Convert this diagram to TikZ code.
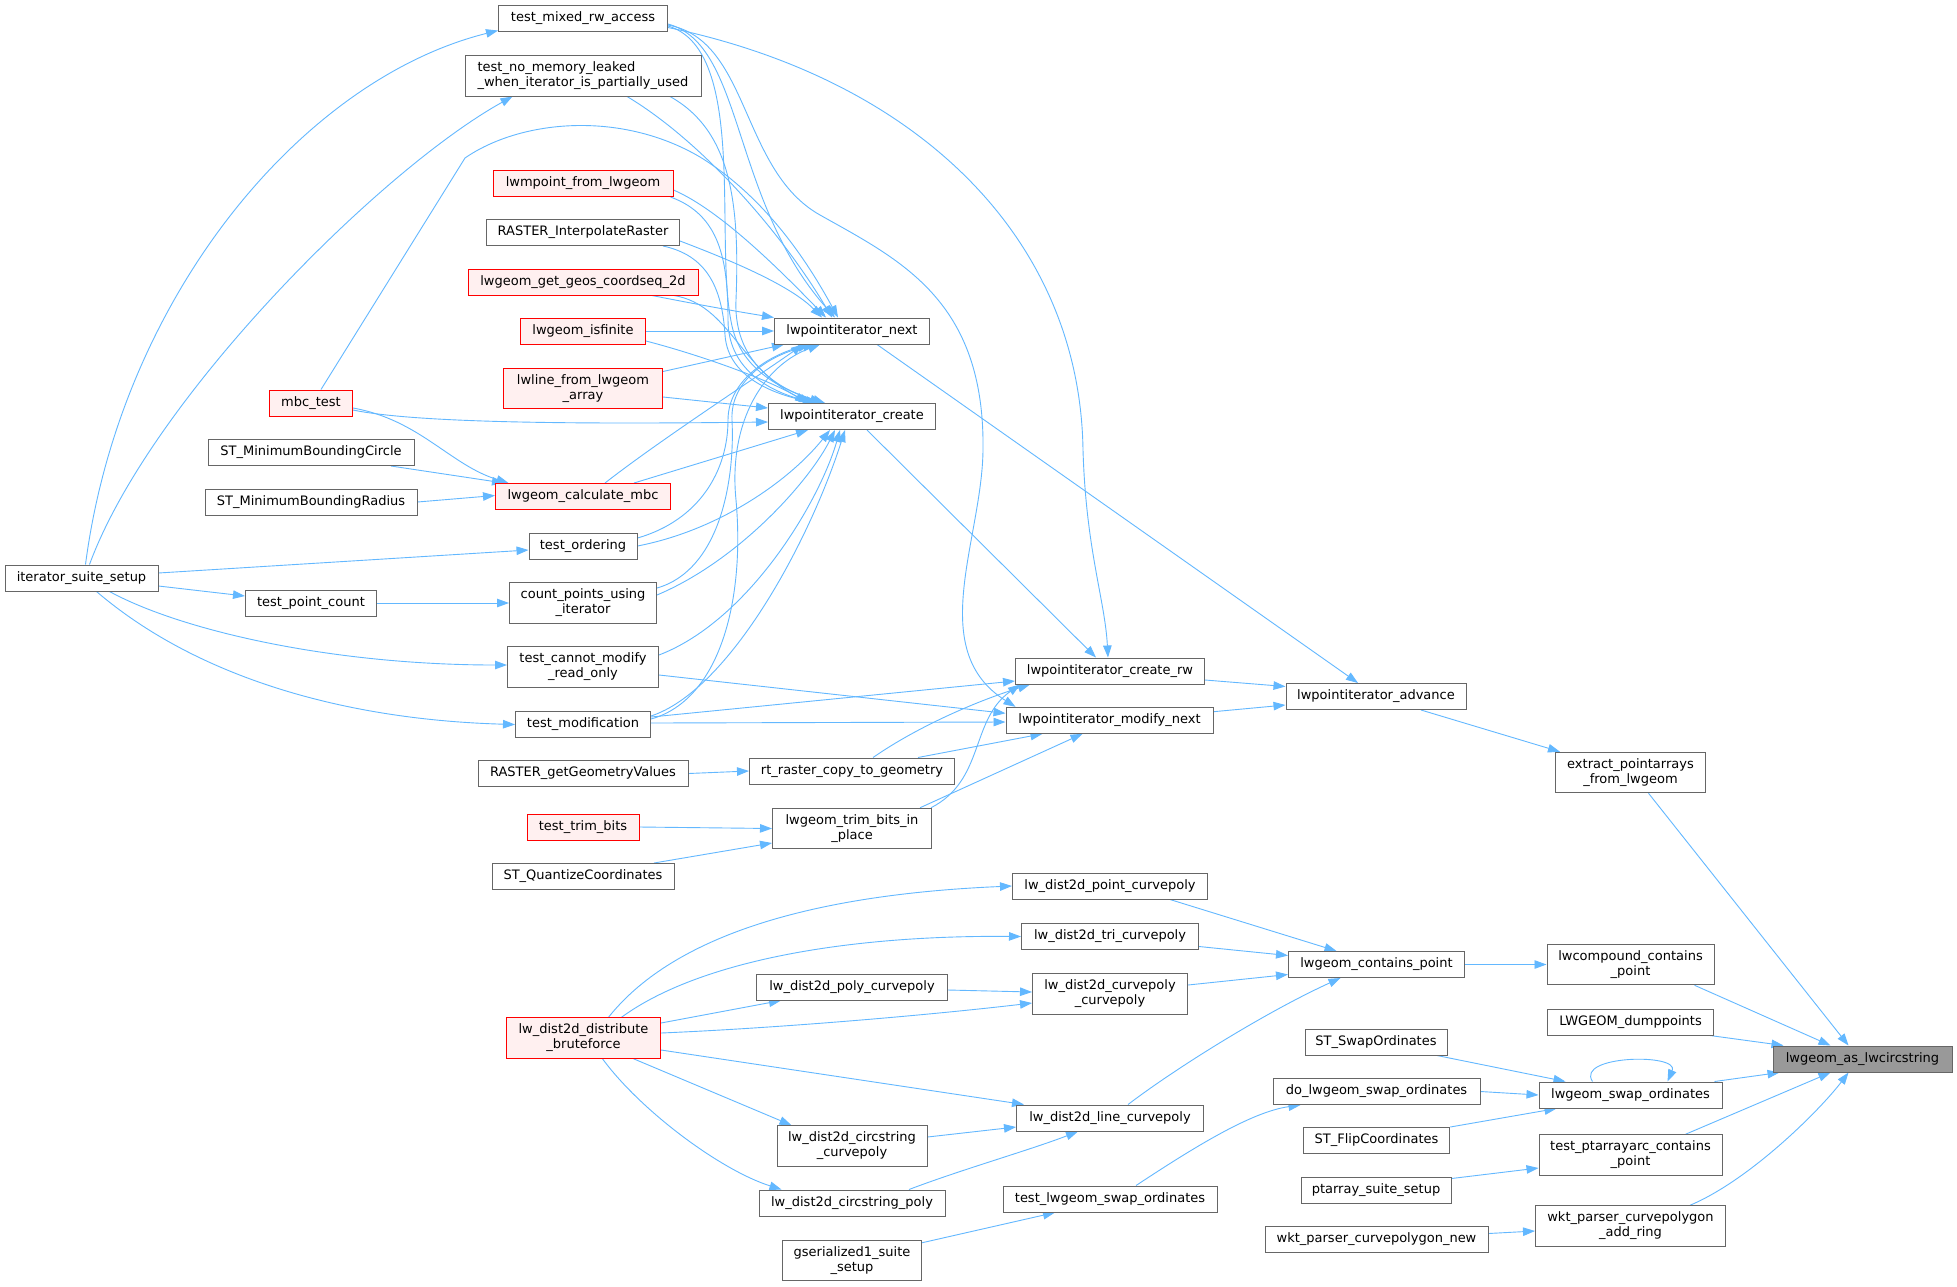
\documentclass[tikz,border=0pt]{standalone}
\usepackage{fontspec}
\newfontfamily\dv{DejaVu Sans}
\usetikzlibrary{arrows.meta}
\definecolor{edgeblue}{HTML}{63B8FF}
\definecolor{boxgray}{HTML}{666666}
\definecolor{hotfill}{HTML}{FFF0F0}
\definecolor{mainfill}{HTML}{999999}
\pgfdeclarelayer{bg}
\pgfsetlayers{bg,main}
\tikzset{
  fn/.style={draw=boxgray, fill=white, line width=1pt, inner sep=0pt, minimum height=26pt,
    font=\dv\fontsize{13pt}{15pt}\selectfont, text=black, align=center},
  two/.style={minimum height=40.5pt},
  hot/.style={draw=red, fill=hotfill},
  cur/.style={fill=mainfill, draw=boxgray},
  e/.style={draw=edgeblue, line width=0.9pt, -{Triangle[length=12pt,width=8.5pt]}},
}
\begin{document}
\begin{tikzpicture}[x=1pt,y=-1pt]
\useasboundingbox (0,0) rectangle (1957,1286);
% ---------- nodes ----------
\node[fn, minimum width=169pt] (tmr) at (583,18) {test\_mixed\_rw\_access};
\node[fn, two, minimum width=236pt, minimum height=41pt, align=left] (tnm) at (583,75.5) {test\_no\_memory\_leaked\\\_when\_iterator\_is\_partially\_used};
\node[fn, hot, minimum width=180pt] (lwm) at (583,183.5) {lwmpoint\_from\_lwgeom};
\node[fn, minimum width=193pt] (rir) at (583,232.5) {RASTER\_InterpolateRaster};
\node[fn, hot, minimum width=230pt] (geos) at (583,282) {lwgeom\_get\_geos\_coordseq\_2d};
\node[fn, hot, minimum width=125pt] (isf) at (583,331) {lwgeom\_isfinite};
\node[fn, two, hot, minimum width=159pt] (lwl) at (583,388.5) {lwline\_from\_lwgeom\\\_array};
\node[fn, hot, minimum width=83pt] (mbct) at (311,403) {mbc\_test};
\node[fn, minimum width=206pt] (smc) at (311,452.5) {ST\_MinimumBoundingCircle};
\node[fn, minimum width=212pt] (smr) at (311,502) {ST\_MinimumBoundingRadius};
\node[fn, hot, minimum width=175pt] (cmbc) at (583,496.5) {lwgeom\_calculate\_mbc};
\node[fn, minimum width=108pt] (tord) at (583,546) {test\_ordering};
\node[fn, minimum width=153pt] (iss) at (81.5,578) {iterator\_suite\_setup};
\node[fn, minimum width=131pt] (tpc) at (311,603) {test\_point\_count};
\node[fn, two, minimum width=147pt] (cpi) at (583,603) {count\_points\_using\\\_iterator};
\node[fn, two, minimum width=151pt] (tcm) at (583,667) {test\_cannot\_modify\\\_read\_only};
\node[fn, minimum width=135pt] (tmod) at (583,724.5) {test\_modification};
\node[fn, minimum width=210pt] (rgv) at (583,773.5) {RASTER\_getGeometryValues};
\node[fn, hot, minimum width=112pt] (ttb) at (583,827) {test\_trim\_bits};
\node[fn, minimum width=182pt] (sqc) at (583,876.5) {ST\_QuantizeCoordinates};
\node[fn, two, hot, minimum width=154pt] (bf) at (583.5,1038) {lw\_dist2d\_distribute\\\_bruteforce};
\node[fn, minimum width=155pt] (nxt) at (852,331) {lwpointiterator\_next};
\node[fn, minimum width=167pt] (crt) at (852,416.5) {lwpointiterator\_create};
\node[fn, minimum width=205pt] (rtr) at (852,771) {rt\_raster\_copy\_to\_geometry};
\node[fn, two, minimum width=159pt] (tbi) at (852,828.5) {lwgeom\_trim\_bits\_in\\\_place};
\node[fn, minimum width=191pt] (polyc) at (852,987) {lw\_dist2d\_poly\_curvepoly};
\node[fn, two, minimum width=150pt] (csc) at (852,1146) {lw\_dist2d\_circstring\\\_curvepoly};
\node[fn, minimum width=186pt] (csp) at (852,1203) {lw\_dist2d\_circstring\_poly};
\node[fn, two, minimum width=139pt] (gs1) at (852,1260.5) {gserialized1\_suite\\\_setup};
\node[fn, minimum width=189pt] (crw) at (1110,671) {lwpointiterator\_create\_rw};
\node[fn, minimum width=207pt] (mnx) at (1109.5,720.3) {lwpointiterator\_modify\_next};
\node[fn, minimum width=195pt] (ptc) at (1110,886) {lw\_dist2d\_point\_curvepoly};
\node[fn, minimum width=177pt] (tric) at (1110,936.5) {lw\_dist2d\_tri\_curvepoly};
\node[fn, two, minimum width=155pt] (cpcp) at (1110,994) {lw\_dist2d\_curvepoly\\\_curvepoly};
\node[fn, minimum width=187pt] (linc) at (1110,1118) {lw\_dist2d\_line\_curvepoly};
\node[fn, minimum width=214pt] (tlso) at (1110,1199) {test\_lwgeom\_swap\_ordinates};
\node[fn, minimum width=180pt] (adv) at (1376,696.5) {lwpointiterator\_advance};
\node[fn, minimum width=176pt] (lcp) at (1376.5,964.5) {lwgeom\_contains\_point};
\node[fn, minimum width=142pt] (sso) at (1376,1042) {ST\_SwapOrdinates};
\node[fn, minimum width=207pt] (dlso) at (1376.5,1091.5) {do\_lwgeom\_swap\_ordinates};
\node[fn, minimum width=146.5pt] (sfc) at (1376.5,1140.5) {ST\_FlipCoordinates};
\node[fn, minimum width=150pt] (pss) at (1376,1190) {ptarray\_suite\_setup};
\node[fn, minimum width=223pt] (wkn) at (1376.5,1239.5) {wkt\_parser\_curvepolygon\_new};
\node[fn, two, minimum width=150pt] (ext) at (1630.5,772.5) {extract\_pointarrays\\\_from\_lwgeom};
\node[fn, two, minimum width=167pt] (lcc) at (1630.5,964.5) {lwcompound\_contains\\\_point};
\node[fn, minimum width=166pt] (ldp) at (1630.5,1022) {LWGEOM\_dumppoints};
\node[fn, minimum width=183pt] (lso) at (1630.5,1095) {lwgeom\_swap\_ordinates};
\node[fn, two, minimum width=183pt] (tpa) at (1630.5,1155) {test\_ptarrayarc\_contains\\\_point};
\node[fn, two, minimum width=190pt] (wkr) at (1630.5,1226) {wkt\_parser\_curvepolygon\\\_add\_ring};
\node[fn, cur, minimum width=179pt] (tgt) at (1862.5,1059) {lwgeom\_as\_lwcircstring};
% ---------- edges ----------
\begin{pgfonlayer}{bg}
\fill[white] (0,0) rectangle (1957,1286);
% into lwgeom_as_lwcircstring
\draw[e] ([xshift=18pt]ext.south) -- ([xshift=-14pt]tgt.north);
\draw[e] ([xshift=64pt]lcc.south) -- ([xshift=-32pt]tgt.north);
\draw[e] ([xshift=-4pt]ldp.south east) -- ([xshift=11pt]tgt.north west);
\draw[e] ([xshift=-8pt]lso.north east) -- ([xshift=7pt]tgt.south west);
\draw[e] ([xshift=-37pt]tpa.north east) -- ([xshift=-32pt]tgt.south);
\draw[e] ([xshift=-36pt]wkr.north east) .. controls (1750,1180) and (1820,1110) .. ([xshift=-14pt]tgt.south);
% swap ordinates
\draw[e] ([xshift=-38pt]lso.north) .. controls (1575,1055) and (1680,1053) .. ([xshift=37pt]lso.north);
\draw[e] ([xshift=61pt]sso.south) -- ([xshift=-65pt]lso.north);
\draw[e] (dlso.east) -- (lso.west);
\draw[e] (sfc.north east) -- ([xshift=-74pt]lso.south);
\draw[e] ([yshift=-2pt]pss.north east) -- ([yshift=-13pt]tpa.west);
\draw[e] ([yshift=6pt]wkn.east) -- ([yshift=-5pt]wkr.west);
\draw[e] ([xshift=26pt]tlso.north) .. controls (1190,1150) and (1250,1112) .. ([xshift=28pt]dlso.south west);
\draw[e] ([yshift=-3pt]gs1.north east) -- ([xshift=-55pt]tlso.south);
% contains point
\draw[e] (lcp.east) -- (lcc.west);
\draw[e] ([xshift=60pt]ptc.south) -- ([xshift=-40pt]lcp.north);
\draw[e] ([yshift=-10pt]tric.east) -- ([yshift=9pt]lcp.west);
\draw[e] ([yshift=9pt]cpcp.east) -- ([yshift=-10pt]lcp.west);
\draw[e] ([xshift=18pt]linc.north) .. controls (1180,1065) and (1270,1010) .. ([xshift=-36pt]lcp.south);
% bruteforce
\draw[e] ([xshift=25pt]bf.north) .. controls (670,940) and (800,895) .. (ptc.west);
\draw[e] ([xshift=38pt]bf.north) .. controls (700,960) and (850,935) .. (tric.west);
\draw[e] ([yshift=15pt]bf.east) -- ([xshift=25pt]polyc.south west);
\draw[e] ([yshift=5pt]bf.east) .. controls (780,1028) and (930,1015) .. ([yshift=-9pt]cpcp.west);
\draw[e] ([yshift=-3pt]polyc.east) -- ([yshift=2pt]cpcp.west);
\draw[e] ([yshift=-12pt]bf.east) -- ([xshift=8pt]linc.north west);
\draw[e] ([xshift=50pt]bf.south) -- ([xshift=15pt]csc.north west);
\draw[e] ([xshift=19pt]bf.south) .. controls (640,1110) and (720,1170) .. ([xshift=23pt]csp.north west);
\draw[e] ([yshift=9pt]csc.east) -- ([yshift=-9pt]linc.west);
\draw[e] ([xshift=57pt]csp.north) .. controls (960,1170) and (1030,1150) .. ([xshift=-32pt]linc.south);
% iterator advance chain
\draw[e] ([xshift=45pt]adv.south) -- ([xshift=5pt]ext.north west);
\draw[e] ([yshift=-9pt]crw.east) -- ([yshift=10pt]adv.west);
\draw[e] ([yshift=8.6pt]mnx.east) -- ([yshift=-8.5pt]adv.west);
\draw[e] ([xshift=25pt]nxt.south) -- ([xshift=-18pt]adv.north);
\draw[e] ([xshift=15pt]crt.south) -- ([xshift=-14pt]crw.north);
\draw[e] ([yshift=4pt]tmr.south east) .. controls (920,80) and (1080,240) .. (1083,450) .. controls (1086,550) and (1105,600) .. ([xshift=-2pt]crw.north);
\draw[e] ([yshift=-7pt]tmr.east) .. controls (750,40) and (740,170) .. (820,215) .. controls (900,260) and (985,300) .. (983,450) .. controls (982,540) and (925,650) .. ([xshift=10pt]mnx.north west);
\draw[e] ([yshift=-8pt]tcm.east) -- ([yshift=7pt]mnx.west);
\draw[e] ([yshift=7.5pt]tmod.east) -- ([yshift=-10pt]crw.west);
\draw[e] ([yshift=1.5pt]tmod.east) -- ([yshift=-1.7pt]mnx.west);
\draw[e] ([xshift=21pt]rtr.north) .. controls (920,725) and (980,700) .. ([xshift=15pt]crw.south west);
\draw[e] ([xshift=66pt]rtr.north) -- ([xshift=-67pt]mnx.south);
\draw[e] ([xshift=68pt]tbi.north) -- ([xshift=-27pt]mnx.south);
\draw[e] ([xshift=-1pt]tbi.north east) .. controls (985,780) and (970,720) .. ([xshift=5pt]crw.south west);
\draw[e] (rgv.east) -- (rtr.west);
\draw[e] (ttb.east) -- (tbi.west);
\draw[e] ([xshift=71pt]sqc.north) -- ([yshift=-14.5pt]tbi.west);
% iterator_suite_setup
\draw[e] ([xshift=4pt]iss.north) .. controls (120,300) and (300,80) .. ([yshift=1pt]tmr.south west);
\draw[e] ([xshift=8pt]iss.north) .. controls (150,400) and (380,170) .. ([xshift=48pt]tnm.south west);
\draw[e] ([yshift=5pt]iss.east) -- ([yshift=-4pt]tord.west);
\draw[e] ([yshift=-8pt]iss.east) -- ([yshift=7pt]tpc.west);
\draw[e] ([xshift=28pt]iss.south) .. controls (180,630) and (330,665) .. ([yshift=2pt]tcm.west);
\draw[e] ([xshift=15pt]iss.south) .. controls (200,680) and (350,720) .. (tmod.west);
\draw[e] (tpc.east) -- (cpi.west);
% mbc
\draw[e] ([yshift=-5pt]mbct.east) .. controls (420,420) and (450,465) .. ([xshift=13.5pt]cmbc.north west);
\draw[e] ([yshift=-7pt]mbct.east) .. controls (420,424) and (600,424) .. ([yshift=-5.5pt]crt.west);
\draw[e] ([xshift=10pt]mbct.north) -- (465,158) .. controls (520,120) and (620,110) .. (700,157) .. controls (770,200) and (812,270) .. ([xshift=-14pt]nxt.north);
\draw[e] ([xshift=80pt]smc.south) -- ([xshift=9pt]cmbc.north west);
\draw[e] (smr.east) -- ([yshift=1pt]cmbc.west);
% into lwpointiterator_next / create from column C
\draw[e] ([yshift=-6pt]tmr.east) .. controls (745,45) and (730,200) .. ([xshift=-17pt]nxt.north);
\draw[e] ([yshift=-8pt]tmr.east) .. controls (750,50) and (712,250) .. (733,330) .. controls (745,375) and (790,392) .. ([xshift=-27pt]crt.north);
\draw[e] ([xshift=44pt]tnm.south) .. controls (700,140) and (780,230) .. ([xshift=-20pt]nxt.north);
\draw[e] ([xshift=87pt]tnm.south) .. controls (730,130) and (740,200) .. (736,300) .. controls (733,370) and (790,392) .. ([xshift=-30pt]crt.north);
\draw[e] ([yshift=-6.5pt]lwm.east) .. controls (720,210) and (780,270) .. ([xshift=-26pt]nxt.north);
\draw[e] ([xshift=-3pt]lwm.south east) .. controls (720,215) and (728,260) .. (728,320) .. controls (728,375) and (780,395) .. ([xshift=-34pt]crt.north);
\draw[e] ([yshift=-8.5pt]rir.east) .. controls (730,260) and (790,285) .. ([xshift=-30pt]nxt.north);
\draw[e] ([xshift=-17pt]rir.south east) .. controls (705,255) and (722,285) .. (725,335) .. controls (728,380) and (780,395) .. ([xshift=-37pt]crt.north);
\draw[e] ([xshift=69pt]geos.south) .. controls (700,305) and (740,312) .. (nxt.north west);
\draw[e] ([xshift=91pt]geos.south) .. controls (730,305) and (740,370) .. ([xshift=-41pt]crt.north);
\draw[e] (isf.east) -- (nxt.west);
\draw[e] ([yshift=-10pt]isf.east) .. controls (700,355) and (770,380) .. ([xshift=-45pt]crt.north);
\draw[e] ([yshift=17pt]lwl.east) -- ([xshift=10pt]nxt.south west);
\draw[e] ([yshift=-8.5pt]lwl.east) -- ([yshift=8.5pt]crt.west);
\draw[e] ([xshift=22pt]cmbc.north) .. controls (660,440) and (760,375) .. ([xshift=-49pt]nxt.south);
\draw[e] ([xshift=51pt]cmbc.north) -- ([xshift=-44pt]crt.south);
\draw[e] ([yshift=8pt]tord.east) .. controls (700,520) and (728,470) .. (728,420) .. controls (728,380) and (770,355) .. ([xshift=-42pt]nxt.south);
\draw[e] (tord.east) .. controls (720,530) and (790,480) .. ([xshift=-22pt]crt.south);
\draw[e] ([yshift=15pt]cpi.east) .. controls (720,570) and (735,480) .. (732,420) .. controls (730,380) and (770,355) .. ([xshift=-37pt]nxt.south);
\draw[e] ([yshift=8pt]cpi.east) .. controls (740,560) and (810,480) .. ([xshift=-17pt]crt.south);
\draw[e] ([yshift=12pt]tcm.east) .. controls (750,620) and (820,500) .. ([xshift=-12pt]crt.south);
\draw[e] ([yshift=5.5pt]tmod.east) .. controls (720,700) and (745,600) .. (736,500) .. controls (728,420) and (765,365) .. ([xshift=-32pt]nxt.south);
\draw[e] ([yshift=8.5pt]tmod.east) .. controls (730,690) and (810,540) .. ([xshift=-7pt]crt.south);
\end{pgfonlayer}
\end{tikzpicture}
\end{document}
